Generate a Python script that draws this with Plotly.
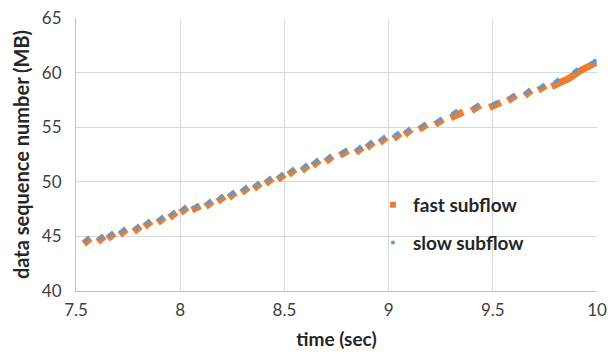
import plotly.graph_objects as go

# Fast subflow bursts (start/end of each burst segment), time in sec, data in MB
fast_x_start = [7.537, 7.604, 7.652, 7.710, 7.777, 7.829, 7.892, 7.949, 8.002, 8.056,
                8.122, 8.180, 8.233, 8.295, 8.353, 8.410, 8.468, 8.520, 8.583, 8.636,
                8.698, 8.766, 8.842, 8.895, 8.957, 9.024, 9.077, 9.146, 9.223, 9.298,
                9.398, 9.484, 9.572, 9.653, 9.718]
fast_x_end = [7.569, 7.636, 7.684, 7.742, 7.809, 7.861, 7.924, 7.981, 8.034, 8.096,
              8.154, 8.212, 8.265, 8.327, 8.385, 8.442, 8.500, 8.552, 8.615, 8.668,
              8.730, 8.806, 8.874, 8.927, 8.989, 9.056, 9.109, 9.184, 9.261, 9.358,
              9.440, 9.538, 9.612, 9.685, 9.754]
fast_y_start = [44.33, 44.51, 44.79, 45.15, 45.43, 45.89, 46.25, 46.71, 47.17, 47.40,
                47.72, 48.17, 48.54, 49.00, 49.37, 49.82, 50.19, 50.65, 51.01, 51.47,
                51.84, 52.42, 52.66, 53.12, 53.58, 53.94, 54.31, 54.78, 55.24, 55.85,
                56.50, 56.80, 57.42, 57.88, 58.37]
fast_y_end = [44.83, 45.01, 45.29, 45.65, 45.93, 46.39, 46.75, 47.21, 47.67, 47.80,
              48.22, 48.67, 49.04, 49.50, 49.87, 50.32, 50.69, 51.15, 51.51, 51.97,
              52.34, 52.86, 53.16, 53.62, 54.08, 54.44, 54.81, 55.26, 55.72, 56.39,
              57.02, 57.26, 57.92, 58.38, 58.81]
# final continuous stretch of the fast subflow
fast_tail_x = [9.782, 9.808, 9.870, 9.918, 9.960, 9.998]
fast_tail_y = [58.72, 58.96, 59.51, 60.15, 60.55, 60.95]

# Slow subflow bursts
slow_x_start = [7.539, 7.606, 7.654, 7.712, 7.779, 7.831, 7.894, 7.951, 8.004, 8.062,
                8.124, 8.182, 8.235, 8.297, 8.355, 8.412, 8.470, 8.522, 8.585, 8.638,
                8.700, 8.772, 8.844, 8.897, 8.959, 9.026, 9.079, 9.151, 9.228, 9.303,
                9.405, 9.497, 9.578, 9.655, 9.722, 9.794, 9.885, 9.971]
slow_x_end = [7.563, 7.630, 7.678, 7.736, 7.803, 7.855, 7.918, 7.975, 8.028, 8.086,
              8.148, 8.206, 8.259, 8.321, 8.379, 8.436, 8.494, 8.546, 8.609, 8.662,
              8.724, 8.796, 8.868, 8.921, 8.983, 9.050, 9.103, 9.175, 9.252, 9.330,
              9.429, 9.521, 9.602, 9.679, 9.746, 9.818, 9.909, 9.996]
slow_y_start = [44.52, 44.70, 44.98, 45.34, 45.62, 46.08, 46.44, 46.90, 47.36, 47.54,
                47.91, 48.36, 48.73, 49.19, 49.56, 50.01, 50.38, 50.84, 51.20, 51.66,
                52.03, 52.58, 52.85, 53.31, 53.77, 54.13, 54.50, 54.96, 55.42, 56.19,
                56.70, 56.97, 57.61, 58.07, 58.53, 59.08, 59.99, 60.82]
slow_y_end = [44.89, 45.07, 45.35, 45.71, 45.99, 46.45, 46.81, 47.27, 47.73, 47.91,
              48.28, 48.73, 49.10, 49.56, 49.93, 50.38, 50.75, 51.21, 51.57, 52.03,
              52.40, 52.95, 53.22, 53.68, 54.14, 54.50, 54.87, 55.33, 55.79, 56.56,
              57.07, 57.34, 57.98, 58.44, 58.90, 59.45, 60.36, 61.19]

x_ticks = [7.5, 8, 8.5, 9, 9.5, 10]
y_ticks = [40, 45, 50, 55, 60, 65]

ORANGE = "#ED7D31"
BLUE = "#5B9BD5"
FONT = "Lato"


def segments(xs, xe, ys, ye):
    X, Y = [], []
    for a, b, c, d in zip(xs, xe, ys, ye):
        X += [a, b, None]
        Y += [c, d, None]
    return X, Y


fx, fy = segments(fast_x_start, fast_x_end, fast_y_start, fast_y_end)
fx += fast_tail_x
fy += fast_tail_y
sx, sy = segments(slow_x_start, slow_x_end, slow_y_start, slow_y_end)

fig = go.Figure()
fig.add_trace(go.Scatter(x=fx, y=fy, mode="lines", line=dict(color=ORANGE, width=7),
                         showlegend=False, hoverinfo="skip", cliponaxis=False))
fig.add_trace(go.Scatter(x=sx, y=sy, mode="lines", line=dict(color=BLUE, width=3.5),
                         showlegend=False, hoverinfo="skip", cliponaxis=False))
# legend entries
fig.add_trace(go.Scatter(x=[None], y=[None], mode="markers", name="fast subflow",
                         marker=dict(symbol="square", size=6, color=ORANGE),
                         legendgroup="a"))
fig.add_trace(go.Scatter(x=[None], y=[None], mode="markers", name="slow subflow",
                         marker=dict(symbol="circle", size=4, color=BLUE),
                         legendgroup="b"))

fig.update_layout(
    width=608, height=355,
    margin=dict(l=76, r=11, t=18, b=64, autoexpand=False),
    paper_bgcolor="white", plot_bgcolor="white",
    font=dict(family=FONT, size=17, color="#404040"),
    legend=dict(x=0.57, y=0.385, xanchor="left", yanchor="top",
                bgcolor="rgba(0,0,0,0)", traceorder="grouped", tracegroupgap=10,
                font=dict(family=FONT, size=19, color="#262626", weight="bold"),
                itemwidth=30),
    xaxis=dict(range=[7.5, 10], tickvals=x_ticks, ticktext=[str(v) for v in x_ticks],
               automargin=False,
               showgrid=True, gridcolor="#D9D9D9", gridwidth=1,
               showline=True, linecolor="#BFBFBF", linewidth=1, zeroline=False,
               ticks="", ticklabelstandoff=4, tickfont=dict(size=17, color="#404040"),
               title=dict(text="time (sec)", standoff=13,
                          font=dict(size=19, color="#262626", weight="bold"))),
    yaxis=dict(range=[40, 65], tickvals=y_ticks, automargin=False,
               showgrid=True, gridcolor="#D9D9D9", gridwidth=1,
               showline=True, linecolor="#BFBFBF", linewidth=1, zeroline=False,
               ticks="", ticklabelstandoff=10, tickfont=dict(size=17, color="#404040"),
               title=dict(text="data sequence number (MB)", standoff=6,
                          font=dict(size=20, color="#262626", weight="bold"))),
)

fig.write_html("out.html")
